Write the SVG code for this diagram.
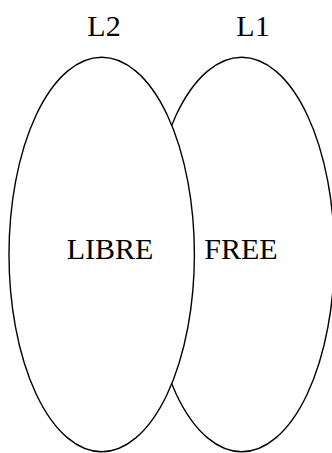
<svg xmlns="http://www.w3.org/2000/svg" width="332" height="453" viewBox="0 0 332 453">
<style>
.set{fill:#fff;stroke:#000;stroke-width:1.4}
.t{font-family:"Liberation Serif","Times New Roman",serif;font-size:30px;fill:#000;text-anchor:middle}
</style>
<rect width="332" height="453" fill="#fff"/>
<g id="L1">
<ellipse class="set" cx="241.7" cy="254.5" rx="92.7" ry="197.2"/>
<text class="t" x="253" y="36">L1</text>
<text class="t" x="241" y="259">FREE</text>
</g>
<g id="L2">
<ellipse class="set" cx="101.7" cy="254.5" rx="92.7" ry="197.2"/>
<text class="t" x="104" y="36">L2</text>
<text class="t" x="110" y="259">LIBRE</text>
</g>
<g id="connectors"></g>
</svg>
